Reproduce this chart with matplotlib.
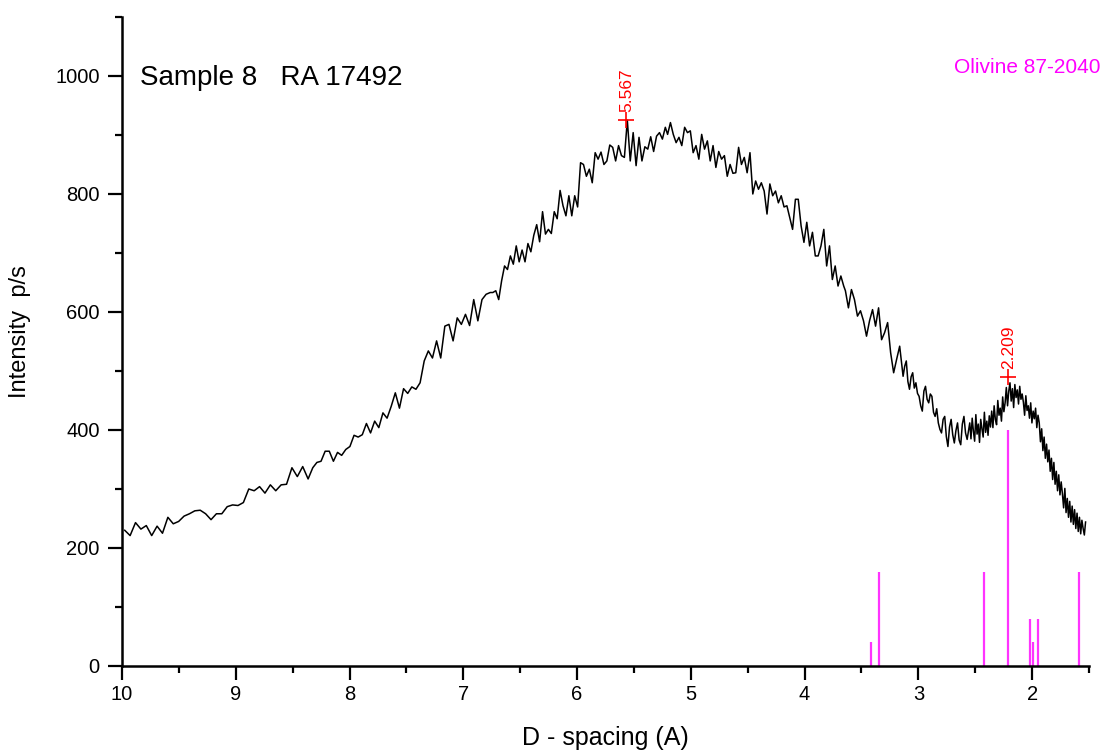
import numpy as np
import matplotlib.pyplot as plt

plt.rcParams['font.family'] = ['Liberation Sans', 'DejaVu Sans']

seg_d = [(9.976, 8.364), (8.323, 6.763), (6.740, 5.224), (5.204, 3.656),
         (3.641, 3.164), (3.134, 2.571), (2.548, 1.530)]

seg1 = [230, 221, 243, 232, 238, 221, 237, 225, 252, 241, 245, 254, 258, 263,
        264, 258, 248, 258, 258, 270, 273, 272, 277, 300, 297, 304, 293, 307,
        297, 307, 308, 336, 321, 338, 317]
seg2 = [336, 345, 347, 364, 364, 347, 362, 357, 367, 372, 391, 388, 392, 411,
        395, 415, 404, 429, 420, 440, 463, 437, 470, 462, 473, 469, 480, 517,
        534, 522, 551, 522, 576, 579, 551, 590, 579, 596, 577, 621, 585, 621,
        630, 633]
seg3 = [633, 636, 621, 653, 678, 672, 695, 681, 712, 685, 705, 685, 716, 702,
        730, 748, 719, 770, 732, 740, 733, 770, 758, 806, 780, 763, 797, 763,
        797, 778, 853, 850, 830, 842, 819, 870, 859, 871, 850, 856, 883, 879,
        856, 882, 865, 862, 925, 856, 904, 848, 896, 856, 880, 876, 897, 872,
        898, 904, 893, 913]
seg4 = [901, 921, 901, 887, 896, 882, 913, 904, 907, 870, 882, 859, 901, 876,
        890, 856, 882, 845, 872, 859, 865, 830, 850, 835, 836, 879, 850, 862,
        836, 870, 800, 822, 808, 819, 805, 766, 817, 797, 805, 785, 797, 778,
        780, 760, 740, 791, 791, 746, 718, 752, 712, 735, 695, 695, 712, 740,
        678, 712, 655, 678, 644, 661, 644]
seg5 = [636, 607, 638, 621, 593, 602, 585, 559, 585, 604, 576, 607, 553, 565,
        582, 531, 497, 520, 542]
seg6 = [491, 508, 517, 482, 469, 490, 497, 471, 480, 462, 457, 441, 432, 466,
        474, 452, 446, 461, 457, 430, 423, 436, 412, 401, 395, 418, 423, 389,
        372, 405, 418, 392, 378, 399, 412, 383, 375, 410, 423, 395, 384]
seg7 = [412, 385, 420, 398, 381, 426, 393, 410, 379, 418, 402, 388, 430, 396,
        415, 391, 424, 405,
        432, 404, 441, 418, 409, 450, 425, 437, 415, 456, 431, 446,
        472, 441, 466, 480, 449, 470, 438, 477, 455, 468, 444, 474, 452, 461,
        447, 425, 458, 433, 441, 420, 446, 412, 432, 419, 437, 404, 425,
        412, 380, 402, 365, 388, 352, 376, 346,
        366, 330, 352, 316, 345, 308, 330, 297, 324, 290, 312,
        292, 268, 301, 260, 284, 252, 279, 244, 271, 240, 265, 233, 259, 228,
        252, 224, 247, 233, 222, 244]
segments = [seg1, seg2, seg3, seg4, seg5, seg6, seg7]

# Olivine 87-2040 reference lines
stick_d = [3.415, 3.345, 2.419, 2.210, 2.017, 1.994, 1.944, 1.586]
stick_h = [40, 160, 160, 400, 80, 40, 80, 160]

# labelled peaks
peak_d = [5.567, 2.209]
peak_i = [925, 490]

d = np.concatenate([np.linspace(a, b, len(v)) for (a, b), v in zip(seg_d, segments)])
counts = np.concatenate([np.array(v, dtype=float) for v in segments])

fig = plt.figure(figsize=(11.05, 7.51), dpi=100)
ax = fig.add_axes([0.1104, 0.1132, 0.8751, 0.8642])

ax.plot(d, counts, color='black', lw=1.1)
ax.vlines(stick_d, 0, stick_h, color='#ff33ff', lw=1.6)

for dv, iv in zip(peak_d, peak_i):
    ax.plot(dv, iv, marker='+', color='red', ms=11, mew=1.2)
    ax.annotate(f'{dv:.3f}', (dv, iv), xytext=(0, 6), textcoords='offset points',
                rotation=90, ha='center', va='bottom', color='red', fontsize=12.5)

ax.set_xlim(10, 1.5)
ax.set_ylim(0, 1100)
ax.set_xticks(np.arange(2, 11, 1))
ax.set_xticks(np.arange(1.5, 10.5, 0.5), minor=True)
ax.set_yticks(np.arange(0, 1001, 200))
ax.set_yticks(np.arange(0, 1101, 100), minor=True)

for side in ['top', 'right']:
    ax.spines[side].set_visible(False)
for side in ['left', 'bottom']:
    ax.spines[side].set_linewidth(1.8)

ax.tick_params(which='major', length=10, width=1.6, labelsize=14.5)
ax.tick_params(which='minor', length=5, width=1.6)
ax.tick_params(axis='y', which='major', pad=6)
ax.tick_params(axis='x', which='major', pad=4)

ax.set_xlabel('D - spacing (A)', fontsize=18)
ax.xaxis.set_label_coords(0.5, -0.111)
ax.xaxis.label.set_va('center')
ax.set_ylabel('Intensity  p/s', fontsize=17)
ax.yaxis.set_label_coords(-0.1055, 0.515)
ax.yaxis.label.set_va('center')

ax.text(9.84, 997, 'Sample 8   RA 17492', fontsize=20, va='center', ha='left')
ax.text(1.40, 1015, 'Olivine 87-2040', fontsize=15, color='magenta',
        va='center', ha='right', clip_on=False)

fig.savefig('out.png', dpi=100)
